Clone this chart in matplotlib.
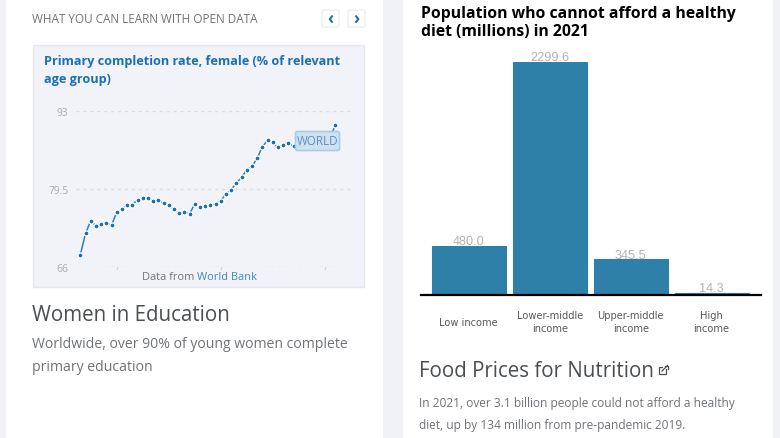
import matplotlib
matplotlib.use("Agg")
import matplotlib.pyplot as plt
from matplotlib.patches import FancyBboxPatch, Rectangle

W, H = 780, 439

# left card: primary completion rate, female
years = list(range(1970, 2020))
completion = [68.1, 71.8, 74.0, 73.1, 73.4, 73.7, 73.2, 75.5, 76.0, 76.7,
              76.8, 77.6, 77.9, 77.9, 77.4, 77.6, 77.0, 76.7, 76.0, 75.3,
              75.6, 75.2, 76.9, 76.3, 76.5, 76.7, 76.9, 77.5, 78.6, 79.4,
              80.5, 81.5, 82.8, 83.4, 84.8, 86.8, 87.9, 87.6, 86.7, 87.2,
              87.5, 86.9, 87.0, 87.2, 87.4, 87.5, 87.7, 87.9, 88.2, 90.5]
y_ticks = [66, 79.5, 93]
y_labels = ["66", "79.5", "93"]
x_ticks = [1977, 1997, 2017]

# right card: population who cannot afford a healthy diet
income_groups = ["Low income", "Lower-middle\nincome", "Upper-middle\nincome", "High\nincome"]
population = [480.0, 2299.6, 345.5, 14.3]

BLUE = "#1b6fb5"
GREY_TXT = "#6f7378"
DARK_TXT = "#4a4f54"
OS = "Open Sans"


def px_axes(fig, left, top, right, bottom, **kw):
    """Axes placed with pixel coordinates measured from the top left"""
    return fig.add_axes([left / W, 1 - bottom / H, (right - left) / W, (bottom - top) / H], **kw)


def draw_page(fig):
    bg = px_axes(fig, 0, 0, W, H, zorder=0)
    bg.set_xlim(0, W)
    bg.set_ylim(H, 0)
    bg.axis("off")
    bg.add_patch(Rectangle((6, 0), 377, H, fc="white", ec="none"))
    bg.add_patch(Rectangle((403, 0), 370, H, fc="white", ec="none"))
    bg.add_patch(Rectangle((32.5, 45.5), 331, 242, fc="#f1f3f8", ec="#e6e8ee", lw=1))

    bg.text(32, 19.5, "WHAT YOU CAN LEARN WITH OPEN DATA", family=OS, fontsize=8.5,
            color=GREY_TXT, va="center")
    for x0, glyph in [(321, "‹"), (347, "›")]:
        bg.add_patch(FancyBboxPatch((x0 + 1, 11), 17, 17, boxstyle="round,pad=0,rounding_size=2",
                                    fc="white", ec="#eceef2", lw=1))
        bg.text(x0 + 9.5, 18.5, glyph, family=OS, fontsize=12, fontweight="bold",
                color=BLUE, ha="center", va="center")

    bg.text(44, 62, "Primary completion rate, female (% of relevant", family=OS, fontsize=9.1,
            fontweight="bold", color=BLUE, va="center")
    bg.text(44, 80, "age group)", family=OS, fontsize=9.1, fontweight="bold", color=BLUE, va="center")
    bg.text(142, 278, "Data from", family=OS, fontsize=7.9, color=GREY_TXT, va="center")
    bg.text(197, 278, "World Bank", family=OS, fontsize=7.9, color="#3f86c6", va="center")

    bg.text(32, 316, "Women in Education", family=OS, fontsize=14.8, color=DARK_TXT, va="center")
    bg.text(32, 345, "Worldwide, over 90% of young women complete", family=OS, fontsize=10.05,
            color=GREY_TXT, va="center")
    bg.text(32, 367.5, "primary education", family=OS, fontsize=10.05, color=GREY_TXT, va="center")

    bg.text(421, 13.5, "Population who cannot afford a healthy", family=OS, fontsize=11.3,
            fontweight="bold", color="black", va="center")
    bg.text(421, 32.5, "diet (millions) in 2021", family=OS, fontsize=11.3,
            fontweight="bold", color="black", va="center")

    bg.text(419, 371.5, "Food Prices for Nutrition", family=OS, fontsize=14.8, color=DARK_TXT, va="center")
    # external link icon
    bg.add_patch(Rectangle((659, 368), 7, 7, fc="none", ec=DARK_TXT, lw=0.9))
    bg.add_patch(Rectangle((663, 365), 5, 5, fc="white", ec="none"))
    bg.plot([662, 667.5], [372, 366.5], color=DARK_TXT, lw=0.9)
    bg.plot([664.5, 667.5, 667.5], [366.5, 366.5, 369.5], color=DARK_TXT, lw=0.9)

    bg.text(419, 403.5, "In 2021, over 3.1 billion people could not afford a healthy", family=OS,
            fontsize=8.6, color=GREY_TXT, va="center")
    bg.text(419, 425.5, "diet, up by 134 million from pre-pandemic 2019.", family=OS,
            fontsize=8.6, color=GREY_TXT, va="center")


def draw_line(fig):
    ax = px_axes(fig, 76, 112, 352, 268, zorder=2)
    ax.patch.set_alpha(0)
    ax.set_xlim(1969.17, 2022.25)
    ax.set_ylim(66, 93)
    ax.plot(years, completion, color="#2f7fbf", lw=1.1, marker="o", ms=3.6,
            mfc=BLUE, mec="white", mew=0.9, clip_on=False, zorder=3)
    ax.set_yticks(y_ticks, y_labels, family=OS, fontsize=7.4, color="#a9acb0")
    ax.set_xticks(x_ticks, [""] * len(x_ticks))
    ax.tick_params(axis="y", length=0, pad=5.5)
    ax.tick_params(axis="x", length=1.5, color="#c9ccd1", width=0.8, pad=0)
    ax.grid(axis="y", color="#dcdee2", lw=1, ls=(0, (2, 3)))
    ax.set_axisbelow(True)
    for s in ax.spines.values():
        s.set_visible(False)

    # series tag sits over the last points
    top = px_axes(fig, 0, 0, W, H, zorder=3)
    top.set_xlim(0, W)
    top.set_ylim(H, 0)
    top.axis("off")
    top.add_patch(FancyBboxPatch((295.5, 132.5), 44, 19, boxstyle="round,pad=0,rounding_size=2",
                                 fc="#cfe2f1", ec="#a8cae6", lw=1.2, alpha=0.96))
    top.text(317.5, 142, "WORLD", family=OS, fontsize=8.4, color="#5a8fc4", ha="center", va="center")


def draw_bars(fig):
    ax = px_axes(fig, 421, 62.5, 761, 295.5, zorder=2)
    ax.patch.set_alpha(0)
    # set_position resets the ticks, so it has to come before the labels
    ax.spines["bottom"].set_position(("outward", 0.7))
    ax.spines["bottom"].set_linewidth(1.6)
    ax.spines["bottom"].set_color("black")
    for s in ["top", "left", "right"]:
        ax.spines[s].set_visible(False)

    positions = range(len(population))
    bars = ax.bar(positions, population, width=74 / 81, color="#2e80a8", ec="#2e80a8", lw=0.8)
    ax.bar_label(bars, labels=[f"{v:.1f}" for v in population], family="Liberation Sans",
                 fontsize=9.2, color="#b3b3b3", padding=-1)
    ax.set_xlim(-0.59, 3.61)
    ax.set_ylim(0, 2299.6)
    ax.set_yticks([])
    ax.set_xticks(list(positions), income_groups, family="DejaVu Sans", fontsize=7.1,
                  color="#55585c", linespacing=1.3)
    ax.tick_params(axis="x", length=0, pad=10.8)
    # single line labels sit centred against the two line ones
    ax.get_xticklabels()[0].set_y(-0.026)


def main():
    fig = plt.figure(figsize=(W / 100, H / 100), dpi=100, facecolor="#f1f2f6")
    draw_page(fig)
    draw_line(fig)
    draw_bars(fig)
    fig.savefig("out.png", dpi=100, facecolor=fig.get_facecolor())


if __name__ == "__main__":
    main()
